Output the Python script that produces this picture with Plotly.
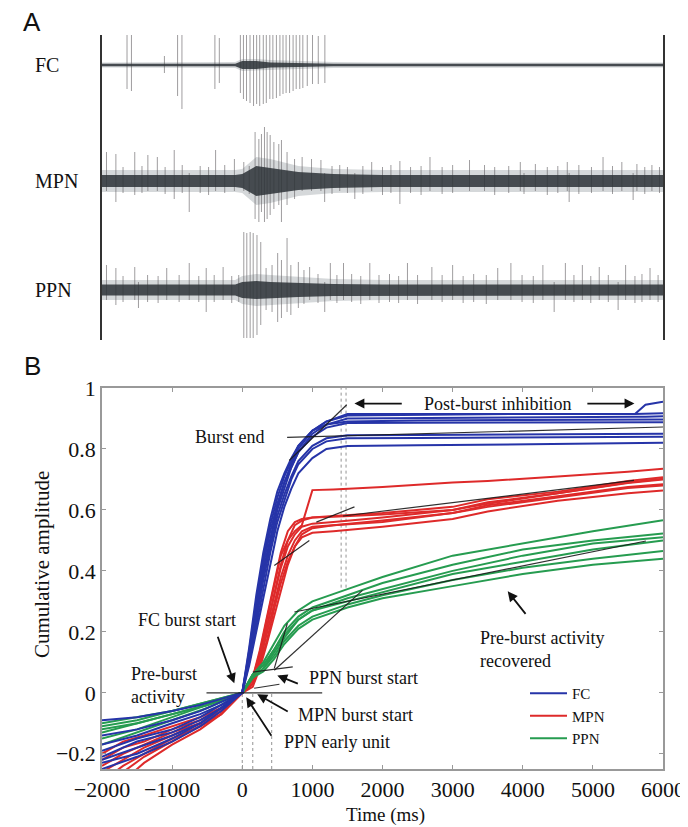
import plotly.graph_objects as go

SERIF = "Liberation Serif"
SANS = "Liberation Sans"

# ---------------- panel A: raw traces (time in ms, amplitude in arbitrary units)
ENV_T = [-2000, -1000, -100, 0, 200, 400, 800, 1300, 2000, 4000, 6000]
FC_INNER = [1.2, 1.2, 1.2, 4, 4, 2.5, 2, 1.2, 1.2, 1.2, 1.2]
FC_OUTER = [2.5, 2.5, 3, 6, 6, 5, 4, 3, 2.5, 2.5, 2.5]
MPN_INNER = [6, 6, 6, 7, 15, 13, 9, 7, 6, 6, 6]
MPN_OUTER = [11, 11, 11, 12, 24, 22, 15, 12, 11, 11, 11]
PPN_INNER = [5.5, 5.5, 5.5, 8, 9, 8, 7, 6, 5.5, 5.5, 5.5]
PPN_OUTER = [10, 10, 10, 14, 16, 15, 13, 11, 10, 10, 10]

FC_SPK_T = [-1643, -1580, -1110, -922, -860, -390, -327,
            -27, 17, 61, 111, 161, 205, 249, 300, 343, 393, 437, 487, 537, 581,
            625, 675, 725, 769, 820, 864, 927, 1002, 1084, 1178]
FC_SPK_UP = [37, 34, 9, 36, 36, 34, 27,
             41, 46, 49, 47, 51, 49, 47, 49, 46, 47, 42, 44, 39, 41,
             39, 37, 36, 37, 34, 34, 34, 32, 29, 31]
FC_SPK_DN = [24, 26, 8, 31, 44, 24, 18,
             28, 34, 36, 38, 41, 39, 41, 39, 38, 34, 34, 33, 31, 29,
             28, 28, 26, 24, 24, 23, 21, 19, 19, 18]

MPN_SPK_T = [-1936, -1802, -1700, -1533, -1430, -1346, -1211, -1100, -970, -856, -756,
             -600, -480, -380, -250, -112, 22, 100,
             183, 237, 274, 317, 355, 398, 451, 521, 559, 639, 746,
             854, 988, 1122, 1175, 1280, 1390, 1500, 1605, 1720, 1846, 2000, 2120,
             2248, 2400, 2550, 2677, 2850, 3000, 3241, 3455, 3600, 3800,
             3965, 4018, 4180, 4350, 4500, 4635, 4662, 4800, 4980, 5145, 5280,
             5413, 5574, 5628, 5740, 5842, 5950]
MPN_SPK_UP = [29, 27, 14, 29, 15, 26, 24, 14, 31, 16, 8,
              15, 14, 31, 16, 22, 19, 15,
              49, 42, 47, 54, 49, 46, 39, 37, 41, 29, 22,
              24, 22, 21, 8, 15, 16, 14, 8, 15, 19, 14, 16,
              20, 14, 15, 24, 14, 16, 21, 16, 14, 15,
              19, 8, 17, 14, 15, 19, 8, 16, 14, 24, 15,
              19, 8, 17, 14, 16, 14]
MPN_SPK_DN = [10, 21, 12, 14, 12, 10, 10, 13, 18, 12, 31,
              12, 14, 10, 12, 10, 10, 13,
              38, 41, 31, 41, 38, 34, 28, 24, 41, 24, 18,
              10, 10, 10, 21, 13, 10, 12, 18, 13, 10, 14, 12,
              23, 12, 14, 10, 13, 12, 10, 10, 14, 12,
              10, 13, 10, 14, 12, 10, 21, 13, 12, 10, 13,
              10, 19, 10, 13, 10, 12]

PPN_SPK_T = [-1936, -1802, -1700, -1533, -1480, -1350, -1200, -1077, -900, -756, -620,
             -514, -400, -273, -150, -50,
             22, 65, 113, 156, 210, 264, 340, 425, 505, 559, 639, 693, 800,
             880, 961, 1080, 1176, 1256, 1350, 1444, 1560, 1690, 1819, 1950, 2100,
             2230, 2356, 2500, 2704, 2850, 3000, 3150, 3300, 3480, 3643, 3831,
             3990, 4150, 4287, 4448, 4608, 4730, 4850, 4970, 5091, 5220, 5360,
             5467, 5600, 5700, 5815, 5930]
PPN_SPK_UP = [25, 22, 14, 23, 8, 15, 14, 22, 15, 27, 14,
              22, 15, 23, 14, 15,
              58, 57, 58, 57, 55, 48, 22, 25, 37, 30, 52, 25, 28,
              20, 23, 16, 8, 27, 15, 27, 16, 14, 27, 15, 16,
              14, 27, 15, 23, 15, 25, 14, 16, 15, 22, 27,
              15, 14, 25, 8, 27, 15, 25, 14, 23, 15, 8,
              25, 14, 16, 22, 15]
PPN_SPK_DN = [10, 15, 12, 10, 18, 12, 13, 10, 12, 10, 12,
              22, 12, 10, 13, 12,
              48, 48, 48, 48, 45, 35, 20, 22, 32, 28, 22, 25, 18,
              14, 10, 13, 22, 10, 13, 10, 12, 14, 10, 13, 12,
              13, 10, 14, 10, 12, 10, 13, 12, 14, 10, 10,
              12, 13, 10, 22, 10, 12, 10, 13, 10, 12, 20,
              10, 13, 12, 10, 12]

# ---------------- panel B: cumulative amplitude curves
T_FC = [-2000, -1500, -1000, -600, -300, 0, 100, 200, 300, 400, 500, 600, 700,
        800, 1000, 1200, 1500, 2500, 4000, 5600, 5750, 6000]
FC_CURVES = [
    [-0.09, -0.08, -0.06, -0.04, -0.02, 0, 0.12, 0.27, 0.40, 0.51, 0.61, 0.69, 0.75, 0.80, 0.86, 0.89, 0.915, 0.915, 0.915, 0.915, 0.945, 0.955],
    [-0.14, -0.12, -0.09, -0.06, -0.03, 0, 0.14, 0.30, 0.44, 0.55, 0.64, 0.71, 0.76, 0.81, 0.86, 0.89, 0.91, 0.912, 0.915, 0.915, 0.916, 0.917],
    [-0.17, -0.14, -0.10, -0.07, -0.04, 0, 0.13, 0.28, 0.42, 0.53, 0.62, 0.69, 0.74, 0.79, 0.85, 0.88, 0.90, 0.902, 0.905, 0.906, 0.906, 0.907],
    [-0.19, -0.15, -0.12, -0.08, -0.04, 0, 0.15, 0.32, 0.46, 0.57, 0.66, 0.72, 0.77, 0.81, 0.86, 0.88, 0.89, 0.893, 0.895, 0.896, 0.896, 0.897],
    [-0.21, -0.16, -0.13, -0.09, -0.05, 0, 0.12, 0.26, 0.39, 0.50, 0.60, 0.67, 0.74, 0.79, 0.84, 0.87, 0.885, 0.886, 0.887, 0.888, 0.888, 0.888],
    [-0.22, -0.18, -0.14, -0.10, -0.05, 0, 0.11, 0.24, 0.37, 0.48, 0.58, 0.65, 0.71, 0.76, 0.81, 0.835, 0.845, 0.846, 0.848, 0.849, 0.849, 0.85],
    [-0.23, -0.20, -0.15, -0.10, -0.05, 0, 0.10, 0.22, 0.35, 0.46, 0.56, 0.63, 0.70, 0.75, 0.80, 0.825, 0.835, 0.836, 0.838, 0.84, 0.84, 0.84],
    [-0.25, -0.21, -0.16, -0.11, -0.06, 0, 0.09, 0.20, 0.32, 0.43, 0.53, 0.61, 0.67, 0.72, 0.77, 0.80, 0.81, 0.812, 0.815, 0.817, 0.818, 0.82],
]

T_MPN = [-2000, -1700, -1400, -1000, -600, -300, 0, 150, 250, 350, 450, 550, 650,
         750, 850, 1000, 1300, 2000, 3000, 3500, 4500, 5500, 6000]
MPN_CURVES = [
    [-0.20, -0.16, -0.14, -0.11, -0.08, -0.05, 0, 0.05, 0.13, 0.24, 0.35, 0.45, 0.50, 0.53, 0.55, 0.665, 0.667, 0.675, 0.69, 0.695, 0.71, 0.725, 0.735],
    [-0.22, -0.18, -0.16, -0.12, -0.09, -0.05, 0, 0.04, 0.11, 0.21, 0.32, 0.42, 0.50, 0.55, 0.565, 0.575, 0.58, 0.59, 0.61, 0.635, 0.66, 0.695, 0.707],
    [-0.24, -0.20, -0.17, -0.13, -0.10, -0.06, 0, 0.05, 0.14, 0.25, 0.36, 0.46, 0.53, 0.56, 0.57, 0.575, 0.578, 0.585, 0.60, 0.625, 0.655, 0.688, 0.700],
    [-0.26, -0.22, -0.18, -0.14, -0.10, -0.06, 0, 0.03, 0.10, 0.19, 0.29, 0.38, 0.45, 0.50, 0.53, 0.545, 0.55, 0.565, 0.59, 0.615, 0.645, 0.675, 0.684],
    [-0.29, -0.24, -0.20, -0.15, -0.11, -0.07, 0, 0.03, 0.09, 0.17, 0.27, 0.36, 0.43, 0.48, 0.51, 0.525, 0.53, 0.545, 0.57, 0.595, 0.63, 0.655, 0.664],
    [-0.32, -0.26, -0.21, -0.16, -0.11, -0.07, 0, 0.04, 0.12, 0.22, 0.32, 0.41, 0.48, 0.52, 0.545, 0.555, 0.56, 0.575, 0.60, 0.62, 0.655, 0.69, 0.702],
    [-0.35, -0.29, -0.23, -0.17, -0.12, -0.07, 0, 0.02, 0.08, 0.16, 0.25, 0.34, 0.42, 0.48, 0.52, 0.54, 0.55, 0.56, 0.59, 0.61, 0.64, 0.672, 0.68],
]

T_PPN = [-2000, -1500, -1000, -500, 0, 150, 300, 450, 600, 800, 1000, 1500, 2000,
         3000, 4000, 5000, 6000]
PPN_CURVES = [
    [-0.10, -0.08, -0.06, -0.03, 0, 0.06, 0.10, 0.16, 0.22, 0.27, 0.30, 0.34, 0.38, 0.45, 0.49, 0.53, 0.566],
    [-0.11, -0.09, -0.06, -0.03, 0, 0.06, 0.09, 0.14, 0.20, 0.25, 0.28, 0.32, 0.36, 0.42, 0.47, 0.50, 0.523],
    [-0.12, -0.10, -0.07, -0.04, 0, 0.05, 0.08, 0.13, 0.18, 0.24, 0.27, 0.31, 0.34, 0.40, 0.45, 0.49, 0.51],
    [-0.13, -0.10, -0.07, -0.04, 0, 0.05, 0.08, 0.12, 0.17, 0.22, 0.25, 0.29, 0.32, 0.37, 0.41, 0.44, 0.465],
    [-0.15, -0.12, -0.08, -0.04, 0, 0.05, 0.07, 0.11, 0.16, 0.21, 0.24, 0.28, 0.31, 0.35, 0.39, 0.42, 0.44],
    [-0.17, -0.13, -0.09, -0.05, 0, 0.06, 0.09, 0.14, 0.19, 0.24, 0.27, 0.30, 0.33, 0.39, 0.43, 0.47, 0.50],
]

# fitted line segments (start t, start y, end t, end y)
FIT_T0 = [640, 670, 1057, 1436, 457, 457, 457, 743, 150, 170, -510]
FIT_Y0 = [0.838, 0.762, 0.56, 0.58, 0.418, 0.08, 0.074, 0.265, 0.068, 0.015, 0.0]
FIT_T1 = [6000, 1490, 1600, 5586, 957, 643, 1714, 5757, 720, 530, 1140]
FIT_Y1 = [0.872, 0.945, 0.61, 0.697, 0.50, 0.228, 0.336, 0.498, 0.085, 0.028, 0.0]

# event markers (dotted verticals)
MARK_T = [0, 150, 420, 1410, 1480]
MARK_LO = [-0.25, -0.25, -0.25, 0.345, 0.345]
MARK_HI = [0.0, 0.0, 0.0, 1.0, 1.0]

X_TICKS = [-2000, -1000, 0, 1000, 2000, 3000, 4000, 5000, 6000]
X_TICKTEXT = ["\u22122000", "\u22121000", "0", "1000", "2000", "3000", "4000", "5000", "6000"]
Y_TICKS = [-0.2, 0, 0.2, 0.4, 0.6, 0.8, 1.0]
Y_TICKTEXT = ["\u22120.2", "0", "0.2", "0.4", "0.6", "0.8", "1"]

COLORS = {"FC": "rgb(38,52,168)", "MPN": "rgb(222,42,42)", "PPN": "rgb(38,156,80)"}
OFFSETS = {"FC": 0, "MPN": -116, "PPN": -225}

# the page body has an 8px margin, so the figure is drawn 8px smaller and
# positions are given in window pixels through px()/py()
PAD = 8
W, H = 688 - PAD, 827 - PAD


def px(x):
    return (x - PAD) / W


def py(y):
    return 1 - (y - PAD) / H


def spike_xy(times, ups, downs, offset):
    xs, ys = [], []
    for t, u, d in zip(times, ups, downs):
        xs += [t, t, None]
        ys += [offset + u, offset - d, None]
    return xs, ys


def band_xy(times, half, offset):
    xs = list(times) + list(times[::-1])
    ys = [offset + h for h in half] + [offset - h for h in half[::-1]]
    return xs, ys


fig = go.Figure()

# ---- panel A
traces_a = [
    ("FC", FC_SPK_T, FC_SPK_UP, FC_SPK_DN, FC_INNER, FC_OUTER),
    ("MPN", MPN_SPK_T, MPN_SPK_UP, MPN_SPK_DN, MPN_INNER, MPN_OUTER),
    ("PPN", PPN_SPK_T, PPN_SPK_UP, PPN_SPK_DN, PPN_INNER, PPN_OUTER),
]
for name, st, su, sd, inner, outer in traces_a:
    off = OFFSETS[name]
    bx, by = band_xy(ENV_T, outer, off)
    fig.add_trace(go.Scatter(x=bx, y=by, mode="lines", fill="toself", xaxis="x2", yaxis="y2",
                             fillcolor="rgba(135,142,148,0.35)", line=dict(width=0),
                             showlegend=False, hoverinfo="skip"))
    sx, sy = spike_xy(st, su, sd, off)
    fig.add_trace(go.Scatter(x=sx, y=sy, mode="lines", xaxis="x2", yaxis="y2",
                             line=dict(color="rgba(95,92,95,0.6)", width=1),
                             showlegend=False, hoverinfo="skip"))
    bx, by = band_xy(ENV_T, inner, off)
    fig.add_trace(go.Scatter(x=bx, y=by, mode="lines", fill="toself", xaxis="x2", yaxis="y2",
                             fillcolor="rgba(45,50,55,0.85)", line=dict(width=0),
                             showlegend=False, hoverinfo="skip"))

# ---- panel B
mx, my = [], []
for t, lo, hi in zip(MARK_T, MARK_LO, MARK_HI):
    mx += [t, t, None]
    my += [lo, hi, None]
fig.add_trace(go.Scatter(x=mx, y=my, mode="lines",
                         line=dict(color="rgba(120,120,120,0.8)", width=1, dash="dot"),
                         showlegend=False, hoverinfo="skip"))

for name, times, curves in [("MPN", T_MPN, MPN_CURVES), ("PPN", T_PPN, PPN_CURVES),
                            ("FC", T_FC, FC_CURVES)]:
    for i, vals in enumerate(curves):
        fig.add_trace(go.Scatter(x=times, y=vals, mode="lines", name=name,
                                 legendgroup=name, showlegend=(i == 0),
                                 legendrank={"FC": 1, "MPN": 2, "PPN": 3}[name],
                                 line=dict(color=COLORS[name], width=2)))

fx, fy = [], []
for t0, y0, t1, y1 in zip(FIT_T0, FIT_Y0, FIT_T1, FIT_Y1):
    fx += [t0, t1, None]
    fy += [y0, y1, None]
fig.add_trace(go.Scatter(x=fx, y=fy, mode="lines",
                         line=dict(color="rgba(25,25,25,0.9)", width=1.2),
                         showlegend=False, hoverinfo="skip"))

txt = dict(family=SERIF, size=18, color="#111")
annotations = [
    dict(text="A", x=px(32), y=py(22), xref="paper", yref="paper", showarrow=False,
         xanchor="center", yanchor="middle", font=dict(family=SANS, size=26, color="#111")),
    dict(text="B", x=px(32), y=py(366), xref="paper", yref="paper", showarrow=False,
         xanchor="center", yanchor="middle", font=dict(family=SANS, size=26, color="#111")),
    dict(text="Cumulative amplitude", x=px(42), y=py(565), xref="paper", yref="paper",
         xanchor="center", yanchor="middle",
         textangle=-90, showarrow=False, font=dict(family=SERIF, size=21, color="#111")),
    dict(text="Time (ms)", x=px(385), y=py(815), xref="paper", yref="paper",
         xanchor="center", yanchor="middle",
         showarrow=False, font=dict(family=SERIF, size=19, color="#111")),
    dict(text="Post-burst inhibition", x=3643, y=0.949, showarrow=False, font=txt),
    dict(text="Burst end", x=357, y=0.838, xanchor="right", showarrow=False, font=txt),
    dict(text="FC burst start", x=-793, y=0.238, showarrow=False, font=txt),
    dict(text="Pre-burst<br>activity", x=-1614, y=0.025, xanchor="left", align="left",
         showarrow=False, font=txt),
    dict(text="PPN burst start", x=929, y=0.0475, xanchor="left", showarrow=False, font=txt),
    dict(text="MPN burst start", x=771, y=-0.074, xanchor="left", showarrow=False, font=txt),
    dict(text="PPN early unit", x=571, y=-0.162, xanchor="left", showarrow=False, font=txt),
    dict(text="Pre-burst activity<br>recovered", x=3357, y=0.143, xanchor="left",
         align="left", showarrow=False, font=txt),
]
for name in ["FC", "MPN", "PPN"]:
    annotations.append(dict(text=name, x=px(33), y=OFFSETS[name], xref="paper", yref="y2",
                            xanchor="left", yanchor="middle", showarrow=False,
                            font=dict(family=SERIF, size=20, color="#111")))

# arrows: (head t, head y, tail t, tail y)
arrows = [(1600, 0.949, 2296, 0.949), (5593, 0.949, 4900, 0.949),
          (-114, 0.031, -357, 0.189), (500, 0.057, 814, 0.028),
          (214, -0.005, 670, -0.064), (57, -0.015, 430, -0.146),
          (3786, 0.333, 4057, 0.254)]
for hx, hy, tx, ty in arrows:
    annotations.append(dict(x=hx, y=hy, ax=tx, ay=ty, xref="x", yref="y", axref="x", ayref="y",
                            text="", showarrow=True, arrowhead=2, arrowsize=1.1,
                            arrowwidth=1.8, arrowcolor="#111"))

fig.update_layout(
    width=W, height=H,
    margin=dict(l=0, r=0, t=0, b=0, autoexpand=False),
    paper_bgcolor="white", plot_bgcolor="white",
    font=dict(family=SERIF, color="#111"),
    showlegend=True,
    legend=dict(x=px(525), y=py(677), xanchor="left", yanchor="top",
                bgcolor="rgba(0,0,0,0)", font=dict(family=SERIF, size=15, color="#111"),
                itemwidth=37, tracegroupgap=0),
    xaxis=dict(domain=[px(102), px(663)], range=[-2000, 6000], anchor="y", automargin=False,
               tickvals=X_TICKS, ticktext=X_TICKTEXT, ticks="inside", ticklen=4,
               tickcolor="#999", showline=True, linecolor="#999", linewidth=1.5,
               mirror="ticks", showgrid=False, zeroline=False,
               tickfont=dict(family=SERIF, size=22, color="#111")),
    yaxis=dict(domain=[py(769), py(388)], range=[-0.25, 1.0], anchor="x", automargin=False,
               tickvals=Y_TICKS, ticktext=Y_TICKTEXT, ticks="inside", ticklen=4,
               tickcolor="#999", showline=True, linecolor="#999", linewidth=1.5,
               mirror="ticks", showgrid=False, zeroline=False,
               tickfont=dict(family=SERIF, size=22, color="#111")),
    xaxis2=dict(domain=[px(102), px(663)], range=[-2000, 6000], anchor="y2", visible=False,
                automargin=False),
    yaxis2=dict(domain=[py(340), py(35)], range=[-275, 30], anchor="x2", automargin=False,
                showline=True, mirror=True, linecolor="#333", linewidth=1.5,
                ticks="", showticklabels=False, showgrid=False, zeroline=False),
    annotations=annotations,
)

fig.write_html("out.html")
